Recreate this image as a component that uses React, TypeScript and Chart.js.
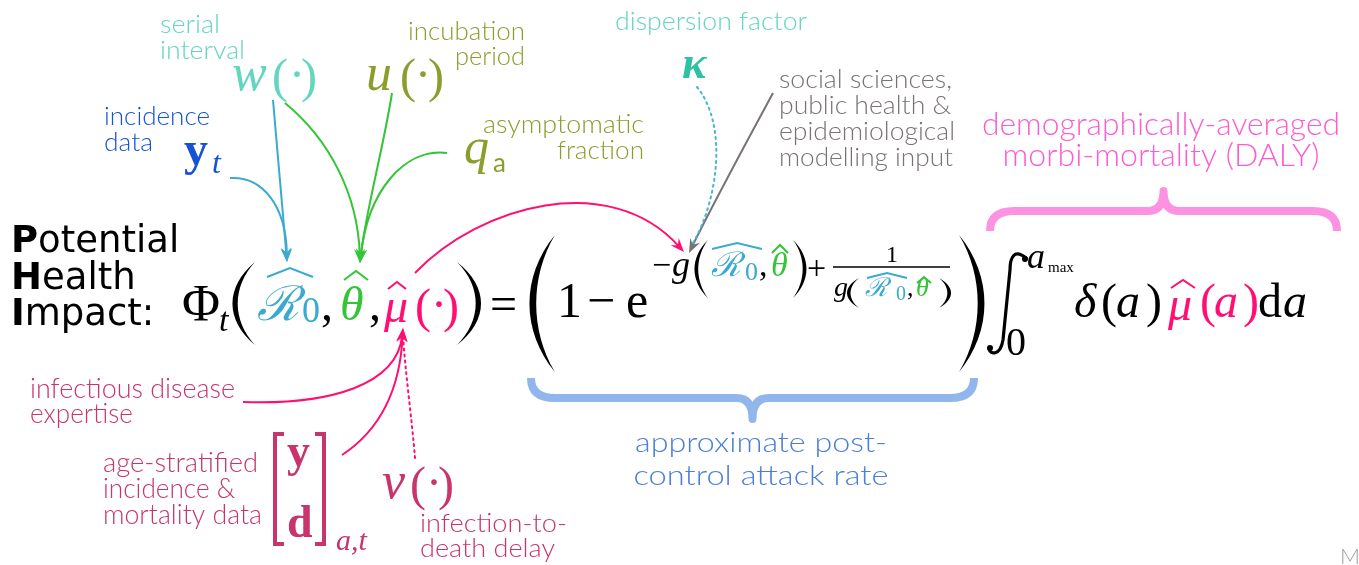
import React, { useEffect, useRef } from "react";
import { Chart, registerables } from "chart.js";
Chart.register(...registerables);

const W = 1359;
const H = 565;

const TEAL = "#63d6bf";
const TEALK = "#2ec2a4";
const OLIVE = "#8a9e2b";
const BLUE = "#1552d6";
const RBLUE = "#3aaacf";
const GREEN = "#33c437";
const PINK = "#ff0f72";
const CRIM = "#c8346c";
const GRAY = "#7a7272";
const PINKT = "#fb5cd1";
const PINKB = "#fd92e2";
const BLUET = "#4a7ed8";
const BLUEB = "#91b6ec";
const BLACK = "#000000";
const DOTTEAL = "#45b5d9";

// ---------- text content ----------
const sansText = [
  "serial", "interval", "incubation", "period", "incidence", "data",
  "asymptomatic", "fraction", "dispersion factor",
  "social sciences,", "public health &", "epidemiological", "modelling input",
  "demographically-averaged", "morbi-mortality (DALY)",
  "approximate post-", "control attack rate",
  "infectious disease", "expertise",
  "age-stratified", "incidence &", "mortality data",
  "infection-to-", "death delay",
];
// x, baseline y, font size, colour, align, target width
const sansLayout: [number, number, number, string, CanvasTextAlign, number][] = [
  [160, 33, 26, TEAL, "left", 60],
  [160, 59, 26, TEAL, "left", 85],
  [408, 40, 26, OLIVE, "left", 117],
  [525, 65, 26, OLIVE, "right", 70],
  [104, 125, 26, BLUE, "left", 106],
  [104, 151, 26, BLUE, "left", 49],
  [644, 133, 26, OLIVE, "right", 161],
  [644, 159, 26, OLIVE, "right", 87],
  [615, 30, 26, TEAL, "left", 192],
  [779, 88, 25, GRAY, "left", 173],
  [779, 114, 25, GRAY, "left", 172],
  [779, 140, 25, GRAY, "left", 176],
  [779, 166, 25, GRAY, "left", 174],
  [1161, 135, 31, PINKT, "center", 358],
  [1161, 166, 31, PINKT, "center", 317],
  [761, 452, 28, BLUET, "center", 252],
  [761, 485, 28, BLUET, "center", 255],
  [30, 398, 27, CRIM, "left", 205],
  [30, 423, 27, CRIM, "left", 103],
  [103, 472, 27, CRIM, "left", 155],
  [103, 498, 27, CRIM, "left", 132],
  [103, 524, 27, CRIM, "left", 159],
  [420, 532, 26, CRIM, "left", 147],
  [420, 557, 26, CRIM, "left", 135],
];

const titleBold = ["P", "H", "I"];
const titleRest = ["otential", "ealth", "mpact:"];
const titleLayout: [number, number][] = [[11, 252], [11, 289], [11, 325]];

const mathText = [
  "w", "(", "·", ")", "u", "(", "·", ")", "y", "t", "q", "a", "κ",
  "Φ", "t", "ℛ", "0", ",", "θ", ",", "μ", "(", "·", ")", "=",
  "1", "−", "e",
  "−", "g", "ℛ", "0", ",", "θ", "+", "1", "g", "ℛ", "0", ",", "θ",
  "a", "max", "0", "δ", "(", "a", ")", "μ", "(", "a", ")", "d", "a",
  "y", "d", "a,t", "v", "(", "·", ")", "M",
];
// x, baseline y, size, style, colour
const mathLayout: [number, number, number, string, string][] = [
  [232, 90, 52, "i", TEAL], [272, 92, 48, "r", TEAL], [289, 90, 48, "r", TEAL], [301, 92, 48, "r", TEAL],
  [366, 90, 52, "i", OLIVE], [400, 92, 48, "r", OLIVE], [415, 90, 48, "r", OLIVE], [428, 92, 48, "r", OLIVE],
  [184, 165, 48, "b", BLUE], [212, 173, 32, "i", BLUE],
  [464, 163, 50, "i", OLIVE], [493, 172, 26, "s", OLIVE],
  [682, 78, 46, "bi", TEALK],
  [182, 321, 52, "r", BLACK], [219, 331, 34, "i", BLACK],
  [257, 320, 48, "i", RBLUE], [302, 322, 36, "r", RBLUE],
  [321, 320, 48, "r", BLACK], [340, 320, 48, "i", GREEN],
  [369, 320, 48, "r", BLACK], [384, 322, 48, "i", PINK],
  [415, 322, 48, "r", PINK], [431, 320, 48, "r", PINK], [443, 322, 48, "r", PINK],
  [490, 320, 48, "r", BLACK],
  [557, 317, 50, "r", BLACK], [587, 317, 50, "r", BLACK], [626, 317, 50, "r", BLACK],
  [652, 276, 34, "r", BLACK], [672, 276, 36, "i", BLACK],
  [711, 276, 34, "i", RBLUE], [745, 280, 26, "r", RBLUE],
  [759, 276, 34, "r", BLACK], [771, 276, 34, "i", GREEN],
  [807, 279, 34, "r", BLACK], [886, 262, 24, "r", BLACK],
  [834, 296, 28, "i", BLACK], [865, 296, 26, "i", RBLUE],
  [896, 300, 20, "r", RBLUE], [907, 296, 26, "r", BLACK],
  [916, 296, 26, "i", GREEN],
  [1027, 268, 36, "i", BLACK], [1048, 272, 15, "r", BLACK],
  [1006, 355, 40, "r", BLACK],
  [1074, 317, 48, "i", BLACK], [1101, 317, 48, "r", BLACK],
  [1116, 317, 48, "i", BLACK], [1146, 317, 48, "r", BLACK],
  [1168, 320, 48, "i", PINK], [1200, 317, 48, "r", PINK],
  [1214, 317, 48, "i", PINK], [1243, 317, 48, "r", PINK],
  [1258, 317, 48, "r", BLACK], [1283, 317, 48, "i", BLACK],
  [287, 466, 46, "b", CRIM], [287, 537, 46, "b", CRIM],
  [336, 550, 30, "i", CRIM],
  [382, 498, 52, "i", CRIM], [410, 500, 48, "r", CRIM], [426, 498, 48, "r", CRIM], [438, 500, 48, "r", CRIM],
  [1340, 564, 22, "t", "#9a9a9a"],
];

// hats: centre x, peak y, half width, height, colour
const hats: [number, number, number, number, string][] = [
  [290, 268, 23, 9, RBLUE],
  [356, 271, 12, 9, GREEN],
  [397, 282, 9, 7, PINK],
  [737, 243, 25, 6, RBLUE],
  [780, 245, 8, 8, GREEN],
  [887, 273, 20, 5, RBLUE],
  [924, 277, 7, 6, GREEN],
  [1183, 280, 12, 8, PINK],
];

// parens: end x, bulge x, top y, bottom y, thickness
const parens: [number, number, number, number, number][] = [
  [255, 240, 262, 345, 3.5],
  [457, 473, 262, 345, 3.5],
  [555, 538, 235, 372, 4.5],
  [959, 976, 235, 372, 4.5],
  [708, 699, 240, 298, 2.5],
  [793, 802, 240, 298, 2.5],
  [859, 851, 278, 308, 2.4],
  [939, 947, 278, 308, 2.4],
];

// curves: x0,y0,c1x,c1y,c2x,c2y,x1,y1, colour, dotted, arrow
const curves: [number, number, number, number, number, number, number, number, string, number, number][] = [
  [273, 100, 277, 150, 283, 210, 287, 262, RBLUE, 0, 1],
  [230, 178, 262, 176, 286, 205, 287, 262, RBLUE, 0, 1],
  [285, 103, 330, 140, 358, 195, 360, 263, GREEN, 0, 1],
  [392, 93, 383, 150, 366, 210, 360, 263, GREEN, 0, 1],
  [447, 153, 405, 148, 368, 190, 360, 263, GREEN, 0, 1],
  [415, 273, 480, 205, 610, 170, 684, 252, PINK, 0, 1],
  [773, 93, 745, 145, 715, 200, 689, 253, GRAY, 0, 1],
  [697, 87, 728, 125, 718, 200, 693, 243, DOTTEAL, 1, 0],
  [243, 402, 330, 405, 397, 385, 403, 328, PINK, 0, 1],
  [342, 455, 380, 430, 400, 390, 403, 328, PINK, 0, 1],
  [415, 458, 412, 420, 405, 370, 403, 335, PINK, 1, 0],
];

// braces: left x, right x, end y, bar y, tip y, colour
const braces: [number, number, number, number, number, string][] = [
  [990, 1337, 231, 211, 191, PINKB],
  [531, 974, 378, 398, 419, BLUEB],
];

// fraction bar and integral
const fracBar: [number, number, number] = [833, 950, 267];
const integralPts: [number, number][] = [[1026, 258], [1014, 248], [1010, 270], [1003, 340], [1000, 357], [990, 354], [989, 349]];

const SERIF = '"Liberation Serif", "DejaVu Serif", serif';
const SANS = 'Lato, "Open Sans", "DejaVu Sans", sans-serif';

function fontFor(style: string, size: number) {
  switch (style) {
    case "i": return `italic ${size}px ${SERIF}`;
    case "b": return `bold ${size}px ${SERIF}`;
    case "bi": return `italic bold ${size}px ${SERIF}`;
    case "s": return `${size}px ${SANS}`;
    case "t": return `300 ${size}px ${SANS}`;
    default: return `${size}px ${SERIF}`;
  }
}

const diagramPlugin = {
  id: "diagram",
  afterDraw(chart: any) {
    const ctx: CanvasRenderingContext2D = chart.ctx;
    const sx = chart.scales.x;
    const sy = chart.scales.y;
    const px = (v: number) => sx.getPixelForValue(v);
    const py = (v: number) => sy.getPixelForValue(v);
    ctx.save();
    ctx.textBaseline = "alphabetic";

    // sans labels
    sansText.forEach((t, i) => {
      const [x, y, size, col, align, tw] = sansLayout[i];
      ctx.font = `300 ${size}px ${SANS}`;
      ctx.fillStyle = col;
      const m = ctx.measureText(t).width;
      const k = tw / m;
      let left = px(x);
      if (align === "center") left = px(x) - tw / 2;
      if (align === "right") left = px(x) - tw;
      ctx.save();
      ctx.translate(left, py(y));
      ctx.scale(k, 1);
      ctx.textAlign = "left";
      ctx.fillText(t, 0, 0);
      ctx.restore();
    });

    // title
    titleBold.forEach((b, i) => {
      const [x, y] = titleLayout[i];
      ctx.fillStyle = BLACK;
      ctx.textAlign = "left";
      ctx.font = `bold 37px "DejaVu Sans", sans-serif`;
      ctx.fillText(b, px(x), py(y));
      const bw = ctx.measureText(b).width;
      ctx.font = `37px "DejaVu Sans", sans-serif`;
      ctx.fillText(titleRest[i], px(x) + bw, py(y));
    });

    // math glyphs
    mathText.forEach((t, i) => {
      const [x, y, size, style, col] = mathLayout[i];
      ctx.font = fontFor(style, size);
      ctx.fillStyle = col;
      ctx.textAlign = "left";
      ctx.fillText(t, px(x), py(y));
    });

    // hats
    hats.forEach(([cx, yp, hw, h, col]) => {
      ctx.beginPath();
      ctx.strokeStyle = col;
      ctx.lineWidth = 2;
      ctx.lineJoin = "miter";
      ctx.moveTo(px(cx - hw), py(yp + h));
      ctx.lineTo(px(cx), py(yp));
      ctx.lineTo(px(cx + hw), py(yp + h));
      ctx.stroke();
    });

    // parens
    parens.forEach(([xe, xb, yt, yb, th]) => {
      const dir = xb < xe ? 1 : -1;
      const ym = (yt + yb) / 2;
      const cOut = 2 * xb - xe;
      const cIn = 2 * (xb + dir * th) - xe;
      ctx.beginPath();
      ctx.fillStyle = BLACK;
      ctx.moveTo(px(xe), py(yt));
      ctx.bezierCurveTo(px(cOut), py(yt + (ym - yt) * 0.6), px(cOut), py(yb - (yb - ym) * 0.6), px(xe), py(yb));
      ctx.bezierCurveTo(px(cIn), py(yb - (yb - ym) * 0.6), px(cIn), py(yt + (ym - yt) * 0.6), px(xe), py(yt));
      ctx.fill();
    });

    // fraction bar
    ctx.beginPath();
    ctx.strokeStyle = BLACK;
    ctx.lineWidth = 1.3;
    ctx.moveTo(px(fracBar[0]), py(fracBar[2]));
    ctx.lineTo(px(fracBar[1]), py(fracBar[2]));
    ctx.stroke();

    // integral sign
    {
      const p = integralPts;
      ctx.beginPath();
      ctx.strokeStyle = BLACK;
      ctx.lineWidth = 3.2;
      ctx.lineCap = "round";
      ctx.moveTo(px(p[0][0]), py(p[0][1]));
      ctx.bezierCurveTo(px(p[1][0]), py(p[1][1]), px(p[2][0]), py(p[2][1] - 12), px(p[2][0]), py(p[2][1]));
      ctx.lineTo(px(p[3][0]), py(p[3][1]));
      ctx.bezierCurveTo(px(p[4][0]), py(p[4][1]), px(p[5][0]), py(p[5][1]), px(p[6][0]), py(p[6][1]));
      ctx.stroke();
      ctx.beginPath();
      ctx.arc(px(p[0][0]) - 1, py(p[0][1]) + 1, 3, 0, Math.PI * 2);
      ctx.arc(px(p[6][0]) + 1, py(p[6][1]) - 1, 3, 0, Math.PI * 2);
      ctx.fillStyle = BLACK;
      ctx.fill();
      ctx.lineCap = "butt";
    }

    // matrix brackets
    ctx.strokeStyle = CRIM;
    ctx.lineWidth = 4;
    ctx.beginPath();
    ctx.moveTo(px(284), py(434)); ctx.lineTo(px(275), py(434)); ctx.lineTo(px(275), py(544)); ctx.lineTo(px(284), py(544));
    ctx.moveTo(px(315), py(434)); ctx.lineTo(px(324), py(434)); ctx.lineTo(px(324), py(544)); ctx.lineTo(px(315), py(544));
    ctx.stroke();

    // curves
    curves.forEach(([x0, y0, c1x, c1y, c2x, c2y, x1, y1, col, dotted, arrow]) => {
      ctx.beginPath();
      ctx.strokeStyle = col;
      ctx.lineWidth = 2;
      if (dotted) { ctx.setLineDash([2, 4]); ctx.lineCap = "round"; }
      else { ctx.setLineDash([]); ctx.lineCap = "butt"; }
      let ex = x1, ey = y1;
      if (arrow) {
        const dx = x1 - c2x, dy = y1 - c2y;
        const l = Math.hypot(dx, dy);
        ex = x1 - (dx / l) * 8; ey = y1 - (dy / l) * 8;
      }
      ctx.moveTo(px(x0), py(y0));
      ctx.bezierCurveTo(px(c1x), py(c1y), px(c2x), py(c2y), px(ex), py(ey));
      ctx.stroke();
      ctx.setLineDash([]);
      if (arrow) {
        const dx = x1 - c2x, dy = y1 - c2y;
        const l = Math.hypot(dx, dy);
        const ux = dx / l, uy = dy / l;
        const L = 14, hw = 5.5;
        const bx = x1 - ux * L, by = y1 - uy * L;
        const nx = x1 - ux * L * 0.65, ny = y1 - uy * L * 0.65;
        ctx.beginPath();
        ctx.fillStyle = col;
        ctx.moveTo(px(x1), py(y1));
        ctx.lineTo(px(bx - uy * hw), py(by + ux * hw));
        ctx.lineTo(px(nx), py(ny));
        ctx.lineTo(px(bx + uy * hw), py(by - ux * hw));
        ctx.closePath();
        ctx.fill();
      }
    });
    ctx.lineCap = "butt";

    // braces
    braces.forEach(([xl, xr, ye, yb, yt, col]) => {
      const xm = (xl + xr) / 2;
      const r = 24;
      const r2 = 16;
      ctx.strokeStyle = col;
      ctx.lineWidth = 8;
      ctx.lineJoin = "round";
      ctx.beginPath();
      ctx.moveTo(px(xl), py(ye));
      ctx.quadraticCurveTo(px(xl), py(yb), px(xl + r), py(yb));
      ctx.lineTo(px(xm - r2), py(yb));
      ctx.quadraticCurveTo(px(xm), py(yb), px(xm), py(yt));
      ctx.quadraticCurveTo(px(xm), py(yb), px(xm + r2), py(yb));
      ctx.lineTo(px(xr - r), py(yb));
      ctx.quadraticCurveTo(px(xr), py(yb), px(xr), py(ye));
      ctx.stroke();
    });

    ctx.restore();
  },
};

export default function App() {
  const ref = useRef<HTMLCanvasElement>(null);
  useEffect(() => {
    const canvas = ref.current!;
    const chart = new Chart(canvas, {
      type: "scatter",
      data: { datasets: [{ data: [], pointRadius: 0 }] },
      options: {
        animation: false,
        responsive: false,
        maintainAspectRatio: false,
        events: [],
        layout: { padding: 0 },
        plugins: { legend: { display: false }, tooltip: { enabled: false } },
        scales: {
          x: { type: "linear", min: 0, max: W, display: false },
          y: { type: "linear", min: 0, max: H, reverse: true, display: false },
        },
      },
      plugins: [diagramPlugin],
    } as any);
    return () => chart.destroy();
  }, []);
  return (
    <div style={{ position: "absolute", left: 0, top: 0, width: W, height: H, background: "#fff" }}>
      <canvas ref={ref} width={W} height={H} style={{ width: W, height: H, display: "block" }} />
    </div>
  );
}
